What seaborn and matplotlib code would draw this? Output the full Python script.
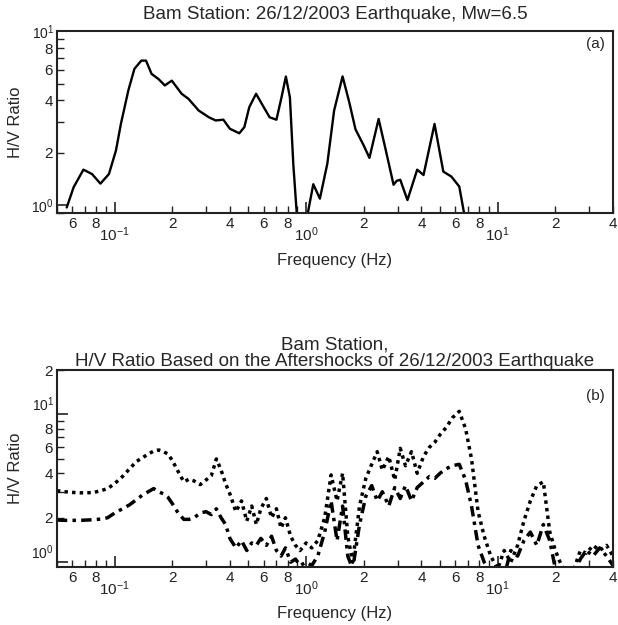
import numpy as np
import pandas as pd
import seaborn as sns
import matplotlib.pyplot as plt
import matplotlib.ticker as ticker

# panel (a): main shock H/V ratio
freq_a = [0.0563, 0.0612, 0.0688, 0.0763, 0.0844, 0.0935, 0.1017, 0.108, 0.118,
          0.127, 0.138, 0.146, 0.156, 0.17, 0.183, 0.199, 0.224, 0.243, 0.275,
          0.311, 0.337, 0.37, 0.40, 0.448, 0.476, 0.505, 0.548, 0.594, 0.645,
          0.70, 0.744, 0.784, 0.823, 0.857, 0.90, 1.0, 1.09, 1.18, 1.29, 1.40,
          1.55, 1.68, 1.81, 2.0, 2.14, 2.39, 2.6, 2.86, 2.97, 3.1, 3.38, 3.8,
          4.1, 4.68, 5.2, 5.73, 6.3, 6.7]
hv_a = [0.97, 1.27, 1.6, 1.51, 1.33, 1.51, 2.06, 2.94, 4.56, 6.08, 6.78, 6.78,
        5.69, 5.3, 4.88, 5.2, 4.37, 4.09, 3.5, 3.2, 3.07, 3.1, 2.75, 2.59, 2.81,
        3.66, 4.37, 3.74, 3.2, 3.1, 4.17, 5.49, 4.17, 1.73, 0.8, 0.8, 1.32, 1.09,
        1.73, 3.5, 5.5, 3.9, 2.73, 2.2, 1.87, 3.13, 2.09, 1.31, 1.38, 1.40, 1.07,
        1.6, 1.49, 2.93, 1.56, 1.46, 1.28, 0.88]

# panel (b): aftershocks, upper and lower curves
freq_b = [0.05, 0.055, 0.06, 0.066, 0.072, 0.078, 0.085, 0.092, 0.1, 0.11, 0.12,
          0.13, 0.14, 0.15, 0.16, 0.17, 0.18, 0.19, 0.2, 0.215, 0.23, 0.245,
          0.26, 0.28, 0.3, 0.32, 0.34, 0.36, 0.38, 0.4, 0.43, 0.46, 0.49, 0.52,
          0.55, 0.58, 0.62, 0.66, 0.7, 0.74, 0.78, 0.83, 0.88, 0.93, 1.0, 1.07,
          1.15, 1.25, 1.35, 1.45, 1.55, 1.65, 1.75, 1.9, 2.05, 2.2, 2.35, 2.5,
          2.7, 2.9, 3.1, 3.3, 3.55, 3.8, 4.1, 4.4, 4.7, 5.0, 5.4, 5.8, 6.3, 6.8,
          7.3, 7.9, 8.5, 9.2, 10, 10.8, 11.7, 12.7, 13.7, 14.8, 16, 17.3, 18.7,
          20, 21.5, 23, 25, 27, 29, 31.5, 34, 37, 40]
hv_b_upper = [3.05, 3.0, 2.97, 2.95, 2.95, 2.97, 3.05, 3.15, 3.4, 3.8, 4.3, 4.8,
              5.1, 5.4, 5.65, 5.75, 5.6, 5.4, 4.9, 4.1, 3.5, 3.65, 3.55, 3.35,
              3.6, 3.85, 5.0, 4.2, 3.4, 2.9, 2.2, 2.6, 1.9, 2.4, 1.8, 2.3, 2.7,
              2.0, 2.3, 1.7, 2.0, 1.5, 1.3, 1.2, 1.35, 1.25, 1.4, 2.0, 3.9, 2.6,
              4.0, 1.5, 1.0, 2.4, 3.7, 4.6, 5.6, 4.2, 5.2, 3.6, 5.9, 4.5, 5.6,
              4.0, 5.2, 6.0, 6.5, 7.3, 8.2, 9.5, 10.5, 8.0, 5.0, 2.2, 1.5, 1.1,
              0.9, 1.2, 1.0, 1.3, 1.9, 2.6, 3.3, 3.5, 1.6, 1.2, 0.95, 0.85, 0.9,
              1.2, 1.15, 1.3, 1.2, 1.3, 1.1]
hv_b_lower = [1.93, 1.92, 1.92, 1.92, 1.93, 1.94, 1.96, 2.0, 2.15, 2.3, 2.45,
              2.65, 2.85, 3.0, 3.15, 3.0, 2.9, 2.75, 2.5, 2.15, 1.95, 1.95, 2.0,
              2.15, 2.2, 2.1, 2.3, 2.0, 1.8, 1.45, 1.25, 1.4, 1.2, 1.35, 1.3,
              1.45, 1.3, 1.5, 1.2, 1.1, 1.25, 1.0, 1.05, 0.95, 1.0, 0.95, 1.1,
              1.6, 2.6, 1.4, 2.4, 1.1, 0.9, 1.8, 2.8, 3.3, 2.6, 3.0, 2.4, 3.2,
              2.7, 3.3, 2.6, 3.2, 3.5, 3.8, 3.7, 4.0, 4.3, 4.5, 4.6, 3.6, 2.4,
              1.3, 1.0, 0.85, 0.9, 0.8, 1.2, 1.1, 1.4, 1.6, 1.3, 1.8, 1.4, 0.9,
              0.85, 0.8, 0.85, 1.05, 1.2, 1.1, 1.25, 1.1, 0.95]

title_a = "Bam Station: 26/12/2003 Earthquake, Mw=6.5"
title_b = "Bam Station,\nH/V Ratio Based on the Aftershocks of 26/12/2003 Earthquake"


def mantissa_label(val, pos):
    m = val / 10 ** np.floor(np.log10(val) + 1e-9)
    m = int(round(m))
    return str(m) if m in (2, 4, 6, 8) else ""


def style_axis(ax, ylim):
    ax.set_xscale("log")
    ax.set_yscale("log")
    ax.set_xlim(0.05, 40)
    ax.set_ylim(*ylim)
    for axis in (ax.xaxis, ax.yaxis):
        axis.set_major_locator(ticker.LogLocator(base=10, numticks=10))
        axis.set_minor_locator(ticker.LogLocator(base=10, subs=np.arange(2, 10), numticks=10))
        axis.set_major_formatter(ticker.LogFormatterSciNotation())
        axis.set_minor_formatter(ticker.FuncFormatter(mantissa_label))
    ax.tick_params(which="both", direction="in", colors="#222222", labelsize=11)
    ax.tick_params(which="major", length=8, width=1.2)
    ax.tick_params(which="minor", length=5, width=1.0)
    ax.tick_params(axis="x", which="major", pad=9)
    ax.tick_params(axis="x", which="minor", pad=3)
    ax.tick_params(axis="y", which="major", labelsize=10, pad=2)
    ax.tick_params(axis="y", which="minor", pad=3)
    for s in ax.spines.values():
        s.set_linewidth(1.5)
        s.set_color("#222222")
    ax.set_xlabel("Frequency (Hz)", fontsize=12, labelpad=6)
    ax.set_ylabel("H/V Ratio", fontsize=12, labelpad=6)


sns.set_style("ticks")
plt.rcParams["font.family"] = ["Liberation Sans", "DejaVu Sans"]
plt.rcParams["mathtext.fontset"] = "custom"
plt.rcParams["mathtext.rm"] = "Liberation Sans"

fig = plt.figure(figsize=(6.18, 6.25), dpi=100)
ax1 = fig.add_axes([0.092, 0.659, 0.900, 0.291])
ax2 = fig.add_axes([0.092, 0.093, 0.900, 0.315])

df_a = pd.DataFrame({"freq": freq_a, "hv": hv_a})
sns.lineplot(data=df_a, x="freq", y="hv", ax=ax1, color="black", linewidth=1.7)
style_axis(ax1, (0.9, 10))
ax1.set_title(title_a, fontsize=13.5, pad=9)
ax1.text(0.985, 0.93, "(a)", transform=ax1.transAxes, ha="right", va="center", fontsize=11)

df_b = pd.DataFrame({"freq": freq_b, "upper": hv_b_upper, "lower": hv_b_lower})
sns.lineplot(data=df_b, x="freq", y="upper", ax=ax2, color="black",
             linewidth=2.5, linestyle=(0, (1, 1.2)))
sns.lineplot(data=df_b, x="freq", y="lower", ax=ax2, color="black",
             linewidth=2.5, linestyle=(0, (3, 1.5, 1, 1.5)))
style_axis(ax2, (0.93, 20))
ax2.set_title(title_b, fontsize=13.5, pad=1, linespacing=1.0)
ax2.text(0.985, 0.87, "(b)", transform=ax2.transAxes, ha="right", va="center", fontsize=11)

# decade labels sit a little above their ticks in the lower panel
for lbl in ax2.yaxis.get_majorticklabels():
    lbl.set_verticalalignment("bottom")

fig.savefig("out.png", dpi=100)
